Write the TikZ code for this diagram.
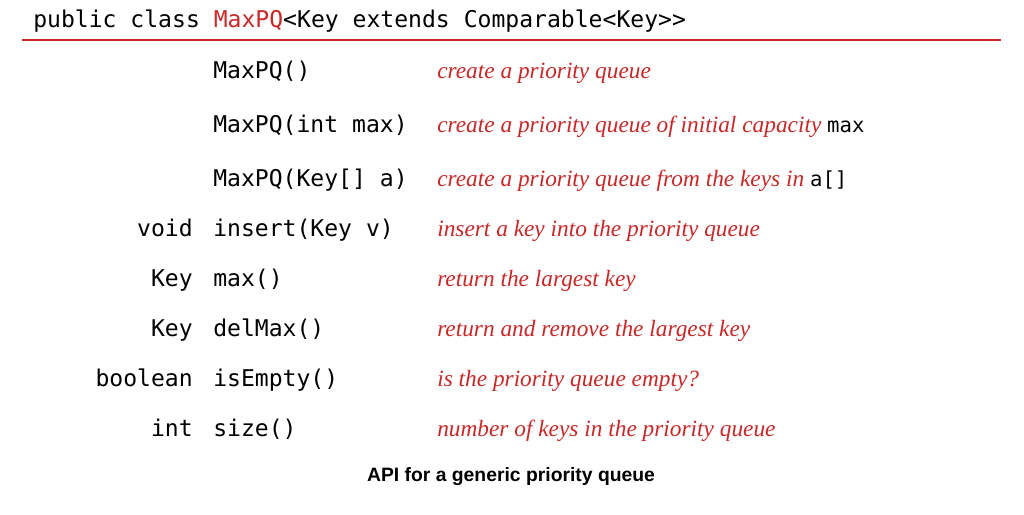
\documentclass[tikz,border=0pt]{standalone}
\usepackage{fontspec}
\setmainfont{Liberation Serif}
\setmonofont{DejaVu Sans Mono}
\setsansfont{Liberation Sans}
\definecolor{bookred}{RGB}{200,40,40}
\begin{document}
\begin{tikzpicture}[x=0.75pt,y=-0.75pt,
  code/.style={inner sep=0pt,font=\ttfamily\fontsize{17.3}{19}\selectfont},
  ret/.style={code,anchor=base east},
  meth/.style={code,anchor=base west},
  desc/.style={inner sep=0pt,anchor=base west,text=bookred,font=\itshape\fontsize{17.5}{19}\selectfont}]
\useasboundingbox (0,0) rectangle (1024,514);
\node[code,anchor=base west] (title) at (33,27) {public class \textcolor{bookred}{MaxPQ}<Key extends Comparable<Key>{}>};
\coordinate (la) at (22,40); \coordinate (lb) at (1001,40);
\draw[bookred,line width=1pt] (la) -- (lb);
\node[meth] (m1) at (213,78) {MaxPQ()};
\node[desc] (d1) at (437,78) {create a priority queue};
\node[meth] (m2) at (213,132) {MaxPQ(int max)};
\node[desc] (d2) at (437,132) {create a priority queue of initial capacity \textcolor{black}{\upshape\ttfamily\fontsize{15.5}{17}\selectfont max}};
\node[meth] (m3) at (213,186) {MaxPQ(Key[] a)};
\node[desc] (d3) at (437,186) {create a priority queue from the keys in \textcolor{black}{\upshape\ttfamily\fontsize{15.5}{17}\selectfont a[]}};
\node[ret] (r4) at (193,236) {void};
\node[meth] (m4) at (213,236) {insert(Key v)};
\node[desc] (d4) at (437,236) {insert a key into the priority queue};
\node[ret] (r5) at (193,286) {Key};
\node[meth] (m5) at (213,286) {max()};
\node[desc] (d5) at (437,286) {return the largest key};
\node[ret] (r6) at (193,336) {Key};
\node[meth] (m6) at (213,336) {delMax()};
\node[desc] (d6) at (437,336) {return and remove the largest key};
\node[ret] (r7) at (193,386) {boolean};
\node[meth] (m7) at (213,386) {isEmpty()};
\node[desc] (d7) at (437,386) {is the priority queue empty?};
\node[ret] (r8) at (193,436) {int};
\node[meth] (m8) at (213,436) {size()};
\node[desc] (d8) at (437,436) {number of keys in the priority queue};
\node[inner sep=0pt,font=\sffamily\bfseries\fontsize{14.5}{16}\selectfont] (cap) at (511,477) {API for a generic priority queue};
\end{tikzpicture}
\end{document}
